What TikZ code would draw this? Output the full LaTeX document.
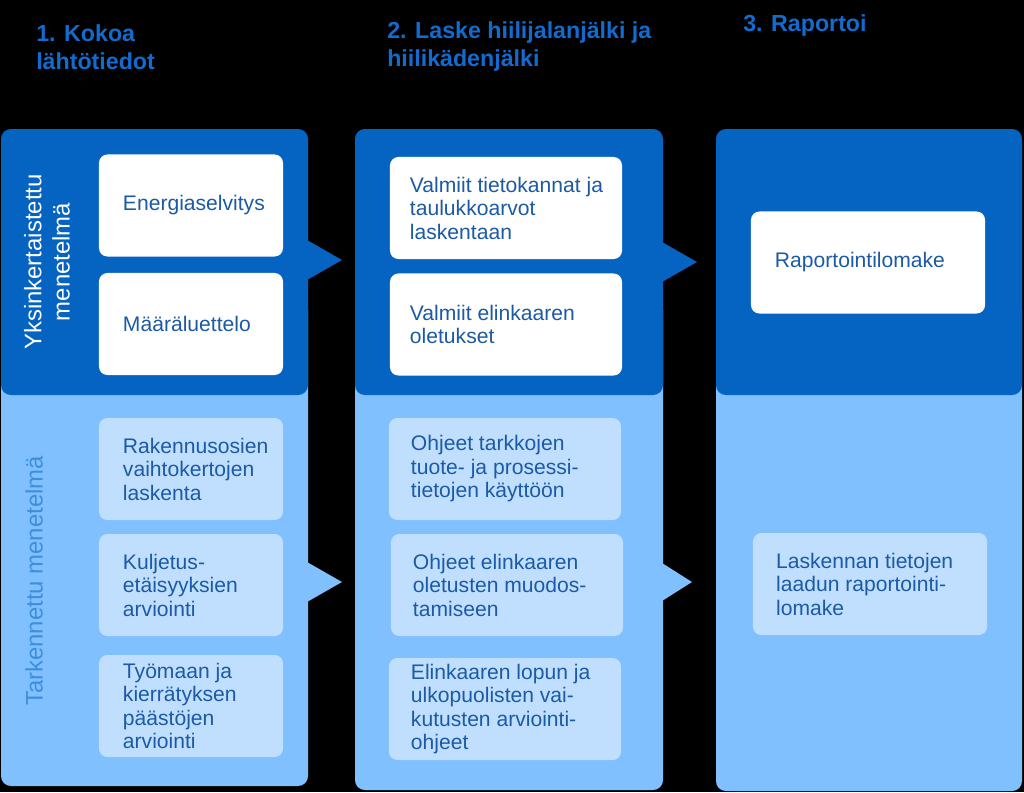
\documentclass[tikz,border=0pt]{standalone}
\usepackage{fontspec}
\setmainfont{Liberation Sans}

\definecolor{darkpanel}{RGB}{5,99,193}
\definecolor{lightpanel}{RGB}{128,192,255}
\definecolor{lightbox}{RGB}{192,223,255}
\definecolor{txtblue}{RGB}{28,90,166}
\definecolor{headblue}{RGB}{18,108,208}
\definecolor{sideblue}{RGB}{62,142,222}

\tikzset{
  wbox/.style={fill=white, rounded corners=6pt, minimum width=#1, minimum height=2.55cm, inner sep=0pt},
  lbox/.style={fill=lightbox, rounded corners=6pt, minimum width=#1, minimum height=2.55cm, inner sep=0pt},
  boxtext/.style={anchor=west, align=left, text=txtblue, inner sep=0pt, font=\fontsize{15}{16.7}\selectfont},
  head/.style={anchor=north west, align=left, text=headblue, inner sep=0pt, font=\fontsize{16.5}{20}\selectfont\bfseries},
  side/.style={rotate=90, align=center, inner sep=0pt, font=\fontsize{17}{20}\selectfont}
}

\begin{document}
\begin{tikzpicture}[x=0.025cm, y=-0.025cm]
    \fill[black] (0,0) rectangle (1024,792);
    \useasboundingbox (0,0) rectangle (1024,792);

    %% headings
    \node[head] (h1) at (36,24) {1. Kokoa\\lähtötiedot};
    \node[head] (h2) at (387,21) {2. Laske hiilijalanjälki ja\\hiilikädenjälki};
    \node[head] (h3) at (743,14) {3. Raportoi};

    %% lower (light) panels
    \fill[lightpanel, rounded corners=7pt] (1,300) rectangle (308,786);
    \fill[lightpanel] (307,562) -- (342,582) -- (307,602) -- cycle;
    \fill[lightpanel, rounded corners=7pt] (355,300) rectangle (663,790);
    \fill[lightpanel] (662,563) -- (692,582) -- (662,601) -- cycle;
    \fill[lightpanel, rounded corners=7pt] (716,300) rectangle (1022,791);

    %% upper (dark) panels
    \fill[darkpanel, rounded corners=7pt] (1,129) rectangle (308,395);
    \fill[darkpanel] (307,240) -- (342,260) -- (307,280) -- cycle;
    \fill[darkpanel, rounded corners=7pt] (355,129) rectangle (663,395);
    \fill[darkpanel] (662,242) -- (697,262) -- (662,282) -- cycle;
    \fill[darkpanel, rounded corners=7pt] (716,129) rectangle (1022,395);

    %% side labels
    \node[side, text=white] (simple) at (47,262) {Yksinkertaistettu\\menetelmä};
    \node[side, text=sideblue] (detail) at (34,581) {Tarkennettu menetelmä};

    %% column 1
    \node[wbox=4.6cm] (b11) at (191,205.5) {};
    \node[wbox=4.6cm] (b12) at (191,324) {};
    \node[lbox=4.6cm] (b13) at (191,469) {};
    \node[lbox=4.6cm] (b14) at (191,585) {};
    \node[lbox=4.6cm] (b15) at (191,706) {};
    \node[boxtext] (t11) at ([xshift=0.6cm]b11.west) {Energiaselvitys};
    \node[boxtext] (t12) at ([xshift=0.6cm]b12.west) {Määräluettelo};
    \node[boxtext] (t13) at ([xshift=0.6cm]b13.west) {Rakennusosien\\vaihtokertojen\\laskenta};
    \node[boxtext] (t14) at ([xshift=0.6cm]b14.west) {Kuljetus-\\etäisyyksien\\arviointi};
    \node[boxtext] (t15) at ([xshift=0.6cm]b15.west) {Työmaan ja\\kierrätyksen\\päästöjen\\arviointi};

    %% column 2
    \node[wbox=5.8cm] (b21) at (506,208) {};
    \node[wbox=5.8cm] (b22) at (506,324.5) {};
    \node[lbox=5.8cm] (b23) at (505,469) {};
    \node[lbox=5.8cm] (b24) at (507,585) {};
    \node[lbox=5.8cm] (b25) at (505,709) {};
    \node[boxtext] (t21) at ([xshift=0.5cm]b21.west) {Valmiit tietokannat ja\\taulukkoarvot\\laskentaan};
    \node[boxtext] (t22) at ([xshift=0.5cm]b22.west) {Valmiit elinkaaren\\oletukset};
    \node[boxtext] (t23) at ([xshift=0.55cm]b23.west) {Ohjeet tarkkojen\\tuote- ja prosessi-\\tietojen käyttöön};
    \node[boxtext] (t24) at ([xshift=0.55cm]b24.west) {Ohjeet elinkaaren\\oletusten muodos-\\tamiseen};
    \node[boxtext] (t25) at ([xshift=0.55cm]b25.west) {Elinkaaren lopun ja\\ulkopuolisten vai-\\kutusten arviointi-\\ohjeet};

    %% column 3
    \node[wbox=5.85cm] (b31) at (868,262.5) {};
    \node[lbox=5.85cm] (b32) at (870,584) {};
    \node[boxtext] (t31) at ([xshift=0.6cm]b31.west) {Raportointilomake};
    \node[boxtext] (t32) at ([xshift=0.58cm]b32.west) {Laskennan tietojen\\laadun raportointi-\\lomake};
\end{tikzpicture}
\end{document}
